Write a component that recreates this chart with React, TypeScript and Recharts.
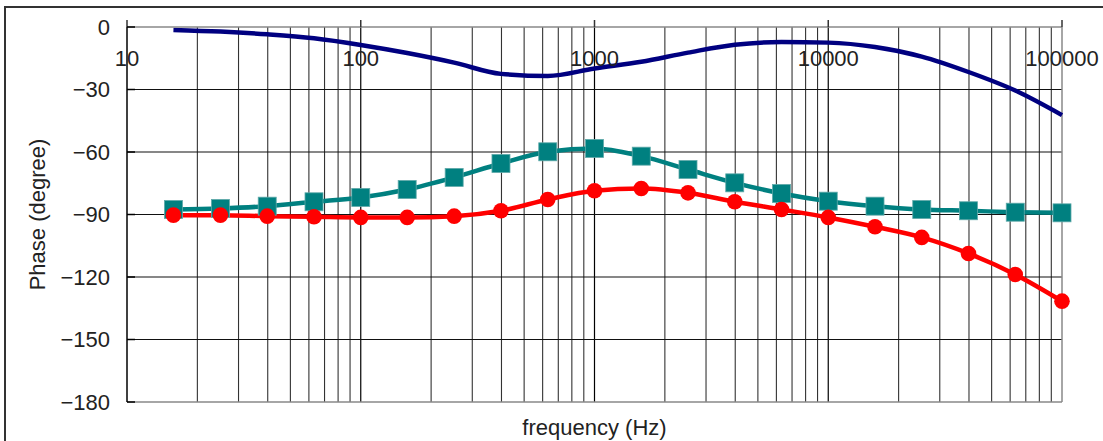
import React from 'react';
import { LineChart, Line, XAxis, YAxis, ReferenceLine } from 'recharts';

const frequencies = [15.8, 25.1, 39.8, 63.1, 100, 158, 251, 398, 631, 1000, 1585, 2512, 3981, 6310, 10000, 15850, 25120, 39810, 63100, 100000];
const navyPhase = [-1.4, -2.2, -3.5, -5.4, -8.6, -12.5, -17.1, -22.5, -23.5, -19.9, -16.7, -12.3, -8.5, -7.2, -7.5, -9.6, -14.2, -21.6, -30.5, -42.3];
const tealPhase = [-87.6, -87.1, -86.0, -83.9, -81.8, -78.0, -72.2, -65.5, -59.9, -58.3, -62.0, -68.4, -74.8, -79.9, -83.6, -86.0, -87.6, -88.2, -88.9, -89.2];
const redPhase = [-90.3, -90.3, -90.8, -91.1, -91.4, -91.4, -90.8, -88.2, -82.8, -78.6, -77.5, -79.6, -83.9, -87.6, -91.4, -95.9, -101.0, -108.7, -118.8, -131.6];

const xTicks = [10, 100, 1000, 10000, 100000];
const xMajorGrid = [100, 1000, 10000];
const xMinorGrid = [
  20, 30, 40, 50, 60, 70, 80, 90,
  200, 300, 400, 500, 600, 700, 800, 900,
  2000, 3000, 4000, 5000, 6000, 7000, 8000, 9000,
  20000, 30000, 40000, 50000, 60000, 70000, 80000, 90000,
];
const yTicks = [0, -30, -60, -90, -120, -150, -180];
const yInnerGrid = [-30, -60, -90, -120, -150];

const xTitle = 'frequency (Hz)';
const yTitle = 'Phase (degree)';

const data = frequencies.map((f, i) => ({
  f,
  navy: navyPhase[i],
  teal: tealPhase[i],
  red: redPhase[i],
}));

const FONT = '"Liberation Sans", Arial, sans-serif';
const TEXT_COLOR = '#222';
const FS = 22;

const XTick = (props: any) => {
  const { x, y, payload } = props;
  return (
    <text x={x} y={y + 46} textAnchor="middle" fontSize={FS} fontFamily={FONT} fill={TEXT_COLOR}>
      {String(payload.value)}
    </text>
  );
};

const YTick = (props: any) => {
  const { x, y, payload } = props;
  const v = payload.value as number;
  const label = v < 0 ? '\u2212' + Math.abs(v) : String(v);
  return (
    <g>
      <line x1={x} x2={x + 8} y1={y} y2={y} stroke="#000" strokeWidth={1.5} />
      <text x={x - 17} y={y} dy="0.36em" textAnchor="end" fontSize={FS} fontFamily={FONT} fill={TEXT_COLOR}>
        {label}
      </text>
    </g>
  );
};

const SquareDot = (props: any) => {
  const { cx, cy } = props;
  if (cx == null || cy == null) return null;
  return <rect x={cx - 9} y={cy - 9} width={18} height={18} fill="#008080" stroke="#5fa9a9" strokeWidth={0.8} />;
};

const CircleDot = (props: any) => {
  const { cx, cy } = props;
  if (cx == null || cy == null) return null;
  return <circle cx={cx} cy={cy} r={7.8} fill="#ff0000" />;
};

export default function App() {
  return (
    <div style={{ position: 'fixed', left: 0, top: 0, width: 1103, height: 441, overflow: 'hidden', background: '#fff' }}>
      <div
        style={{
          position: 'absolute',
          left: 4,
          top: 6,
          width: 1300,
          height: 700,
          border: '2px solid #333',
        }}
      />
      <div style={{ position: 'absolute', left: 0, top: 0 }}>
        <LineChart width={1103} height={441} data={data} margin={{ top: 0, left: 0, right: 41, bottom: 39 }}>
          <XAxis
            dataKey="f"
            type="number"
            scale="log"
            domain={[10, 100000]}
            ticks={xTicks}
            interval={0}
            orientation="top"
            height={27}
            tickSize={7}
            tickMargin={0}
            axisLine={{ stroke: '#888', strokeWidth: 1.5 }}
            tickLine={{ stroke: '#333', strokeWidth: 1.5 }}
            tick={XTick}
          />
          <YAxis
            type="number"
            domain={[-180, 0]}
            ticks={yTicks}
            interval={0}
            width={127}
            tickSize={0}
            tickMargin={0}
            axisLine={{ stroke: '#000', strokeWidth: 1.5 }}
            tickLine={false}
            tick={YTick}
          />
          {xMinorGrid.map((v) => (
            <ReferenceLine key={'mn' + v} x={v} stroke="#333" strokeWidth={1.1} />
          ))}
          {xMajorGrid.map((v) => (
            <ReferenceLine key={'mj' + v} x={v} stroke="#000" strokeWidth={1.2} />
          ))}
          {yInnerGrid.map((v) => (
            <ReferenceLine key={'h' + v} y={v} stroke="#111" strokeWidth={1.2} />
          ))}
          <ReferenceLine y={-180} stroke="#888" strokeWidth={1.5} />
          <ReferenceLine x={100000} stroke="#888" strokeWidth={1.5} />
          <Line
            dataKey="navy"
            type="monotone"
            stroke="#000080"
            strokeWidth={4.5}
            dot={false}
            activeDot={false}
            isAnimationActive={false}
          />
          <Line
            dataKey="teal"
            type="monotone"
            stroke="#008080"
            strokeWidth={4.5}
            dot={SquareDot}
            activeDot={false}
            isAnimationActive={false}
          />
          <Line
            dataKey="red"
            type="monotone"
            stroke="#ff0000"
            strokeWidth={4.5}
            dot={CircleDot}
            activeDot={false}
            isAnimationActive={false}
          />
        </LineChart>
      </div>
      <svg width={1103} height={441} style={{ position: 'absolute', left: 0, top: 0, pointerEvents: 'none' }}>
        <text x={594.5} y={435} textAnchor="middle" fontSize={FS} fontFamily={FONT} fill={TEXT_COLOR}>
          {xTitle}
        </text>
        <text
          x={45}
          y={214.5}
          textAnchor="middle"
          fontSize={FS}
          fontFamily={FONT}
          fill={TEXT_COLOR}
          transform="rotate(-90 45 214.5)"
        >
          {yTitle}
        </text>
      </svg>
    </div>
  );
}
